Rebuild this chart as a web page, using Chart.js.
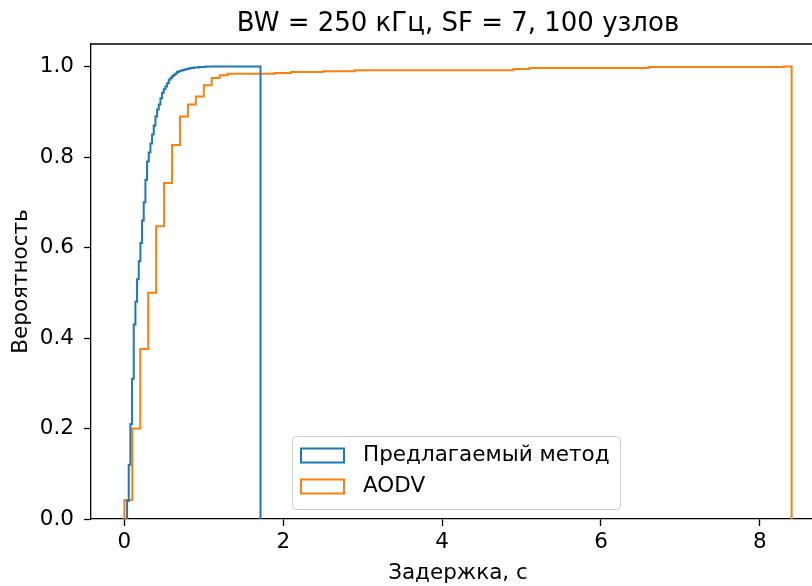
<!DOCTYPE html>
<html>
<head>
<meta charset="utf-8">
<script src="https://cdn.jsdelivr.net/npm/chart.js@4"></script>
<style>
    html, body { margin: 0; padding: 0; background: #fff; }
    #wrap { width: 812px; height: 586px; overflow: hidden; }
</style>
</head>
<body>
<div id="wrap"><canvas id="cdfChart" width="916" height="586"></canvas></div>
<script>
// chart text
const chartTitle = 'BW = 250 кГц, SF = 7, 100 узлов';
const xTitle = 'Задержка, с';
const yTitle = 'Вероятность';
const seriesNames = ['Предлагаемый метод', 'AODV'];

// axis ticks
const xTicks = [0, 2, 4, 6, 8];
const yTicks = [0, 0.2, 0.4, 0.6, 0.8, 1.0];

// proposed method: histogram bins (cumulative, normalized)
const blueStart = 0.034;
const blueBinWidth = 0.021;
const blueCdf = [
    0.040, 0.120, 0.210, 0.310, 0.430, 0.480, 0.530, 0.570, 0.610, 0.660,
    0.700, 0.750, 0.790, 0.810, 0.830, 0.850, 0.870, 0.890, 0.905, 0.916,
    0.930, 0.942, 0.950, 0.956, 0.963, 0.971, 0.975, 0.979, 0.982, 0.985,
    0.988, 0.990, 0.991, 0.992, 0.993, 0.994, 0.995, 0.996, 0.997, 0.997,
    0.998, 0.998, 0.998, 0.999, 0.999, 0.999, 0.999, 1.000, 1.000, 1.000,
    1.000, 1.000, 1.000, 1.000, 1.000, 1.000, 1.000, 1.000, 1.000, 1.000,
    1.000, 1.000, 1.000, 1.000, 1.000, 1.000, 1.000, 1.000, 1.000, 1.000,
    1.000, 1.000, 1.000, 1.000, 1.000, 1.000, 1.000, 1.000, 1.000, 1.000
];

// AODV: histogram bins (cumulative, normalized)
const orangeStart = 0;
const orangeBinWidth = 0.1;
const orangeCdf = [
    0.042, 0.200, 0.376, 0.500, 0.647, 0.743, 0.827, 0.890, 0.916, 0.934,
    0.959, 0.975, 0.981, 0.984, 0.984, 0.984, 0.984, 0.984, 0.984, 0.986,
    0.986, 0.988, 0.988, 0.988, 0.988, 0.990, 0.990, 0.990, 0.990, 0.992,
    0.992, 0.992, 0.992, 0.992, 0.992, 0.992, 0.992, 0.992, 0.992, 0.992,
    0.992, 0.992, 0.992, 0.992, 0.992, 0.992, 0.992, 0.992, 0.992, 0.995,
    0.995, 0.997, 0.997, 0.997, 0.997, 0.997, 0.997, 0.997, 0.997, 0.997,
    0.997, 0.997, 0.997, 0.997, 0.997, 0.997, 0.999, 0.999, 0.999, 0.999,
    0.999, 0.999, 0.999, 0.999, 0.999, 0.999, 0.999, 0.999, 0.999, 0.999,
    0.999, 0.999, 0.999, 1.000
];

const BLUE = '#1f77b4';
const ORANGE = '#ff7f0e';
const FONT = "'DejaVu Sans', sans-serif";

// outline of a step histogram, like matplotlib histtype='step'
function stepOutline(start, width, cdf) {
    const pts = [{ x: start, y: 0 }];
    cdf.forEach((v, i) => pts.push({ x: start + i * width, y: v }));
    const end = start + cdf.length * width;
    pts.push({ x: end, y: cdf[cdf.length - 1] });
    pts.push({ x: end, y: 0 });
    return pts;
}

// title, top/right spines and legend box
const decorPlugin = {
    id: 'decor',
    afterDraw(chart) {
        const ctx = chart.ctx;
        const a = chart.chartArea;
        ctx.save();

        ctx.strokeStyle = '#000';
        ctx.lineWidth = 1.3;
        ctx.beginPath();
        ctx.moveTo(a.left, a.top);
        ctx.lineTo(a.right, a.top);
        ctx.lineTo(a.right, a.bottom);
        ctx.stroke();

        ctx.fillStyle = '#000';
        ctx.font = '26px ' + FONT;
        ctx.textAlign = 'center';
        ctx.textBaseline = 'alphabetic';
        ctx.fillText(chartTitle, (a.left + a.right) / 2, 31);

        // legend
        const bx = 292.5, by = 436.5, bw = 328, bh = 73;
        ctx.beginPath();
        ctx.roundRect(bx, by, bw, bh, 4);
        ctx.fillStyle = 'rgba(255,255,255,0.8)';
        ctx.fill();
        ctx.strokeStyle = '#cccccc';
        ctx.lineWidth = 1;
        ctx.stroke();

        const rows = [455.5, 486.5];
        chart.data.datasets.forEach((ds, i) => {
            ctx.strokeStyle = ds.borderColor;
            ctx.lineWidth = 2;
            ctx.strokeRect(301, rows[i] - 7, 43, 14);
            ctx.fillStyle = '#000';
            ctx.font = '21.5px ' + FONT;
            ctx.textAlign = 'left';
            ctx.textBaseline = 'middle';
            ctx.fillText(ds.label, 363, rows[i]);
        });
        ctx.restore();
    }
};

document.addEventListener('DOMContentLoaded', function() {
    const ctx = document.getElementById('cdfChart');
    new Chart(ctx.getContext('2d'), {
        type: 'line',
        data: {
            datasets: [{
                label: seriesNames[0],
                data: stepOutline(blueStart, blueBinWidth, blueCdf),
                borderColor: BLUE,
                borderWidth: 2,
                stepped: 'before',
                pointRadius: 0,
                fill: false
            }, {
                label: seriesNames[1],
                data: stepOutline(orangeStart, orangeBinWidth, orangeCdf),
                borderColor: ORANGE,
                borderWidth: 2,
                stepped: 'before',
                pointRadius: 0,
                fill: false
            }]
        },
        options: {
            responsive: false,
            animation: false,
            events: [],
            layout: { padding: { top: 44, right: 91, left: 0, bottom: 0 } },
            plugins: {
                legend: { display: false },
                title: { display: false },
                tooltip: { enabled: false }
            },
            scales: {
                x: {
                    type: 'linear',
                    min: -0.42,
                    max: 8.82,
                    afterFit: s => { s.height = 67; },
                    afterBuildTicks: s => { s.ticks = xTicks.map(v => ({ value: v })); },
                    grid: { drawOnChartArea: false, drawTicks: true, tickLength: 7, tickColor: '#000', tickWidth: 1.3 },
                    border: { display: true, color: '#000', width: 1.3 },
                    ticks: { color: '#000', padding: 4, maxRotation: 0, font: { family: FONT, size: 21.5 }, callback: v => String(v) },
                    title: { display: true, text: xTitle, color: '#000', padding: { top: 0, bottom: 0 }, font: { family: FONT, size: 21.5 } }
                },
                y: {
                    type: 'linear',
                    min: 0,
                    max: 1.05,
                    afterFit: s => { s.width = 91; },
                    afterBuildTicks: s => { s.ticks = yTicks.map(v => ({ value: v })); },
                    grid: { drawOnChartArea: false, drawTicks: true, tickLength: 7, tickColor: '#000', tickWidth: 1.3 },
                    border: { display: true, color: '#000', width: 1.3 },
                    ticks: { color: '#000', padding: 10, font: { family: FONT, size: 21.5 }, callback: v => v.toFixed(1) },
                    title: { display: true, text: yTitle, color: '#000', padding: { top: 9, bottom: 0 }, font: { family: FONT, size: 21.5 } }
                }
            }
        },
        plugins: [decorPlugin]
    });
});
</script>
</body>
</html>
